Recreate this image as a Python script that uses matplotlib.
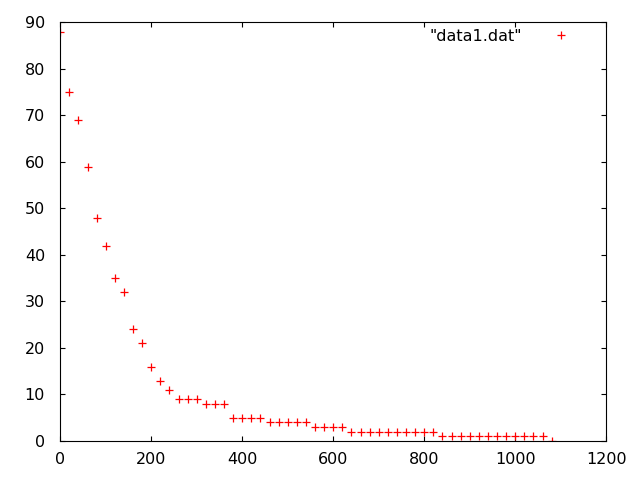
import matplotlib
matplotlib.use('Agg')
import matplotlib.pyplot as plt

# values (gnuplot-style scatter of data1.dat)
x_vals = list(range(0, 1100, 20))
y_vals = [88, 75, 69, 59, 48, 42, 35, 32, 24, 21,
          16, 13, 11, 9, 9, 9, 8, 8, 8, 5,
          5, 5, 5, 4, 4, 4, 4, 4, 3, 3,
          3, 3, 2, 2, 2, 2, 2, 2, 2, 2,
          2, 2, 1, 1, 1, 1, 1, 1, 1, 1,
          1, 1, 1, 1, 0]
x_ticks = [0, 200, 400, 600, 800, 1000, 1200]
y_ticks = [0, 10, 20, 30, 40, 50, 60, 70, 80, 90]

plt.rcParams['font.family'] = ['DejaVu Sans']

fig = plt.figure(figsize=(6.4, 4.8), dpi=100)
ax = fig.add_axes([0.0942, 0.08125, 0.8531, 0.8723])

ax.plot(x_vals, y_vals, linestyle='none', marker='+', color='red',
        markersize=5.2, markeredgewidth=0.9, label='"data1.dat"', clip_on=True)

ax.set_xlim(0, 1200)
ax.set_ylim(0, 90)
ax.set_xticks(x_ticks)
ax.set_yticks(y_ticks)
ax.tick_params(direction='in', length=3.3, width=0.8, top=True, right=True,
               labelsize=11.5, colors='black')
ax.tick_params(axis='x', pad=8)
ax.tick_params(axis='y', pad=11)
for sp in ax.spines.values():
    sp.set_linewidth(0.8)

# key sits top right, text before the marker like gnuplot
ax.legend(loc='upper right', bbox_to_anchor=(0.946, 0.985), frameon=False,
          markerfirst=False, handlelength=2, handletextpad=1.45,
          borderpad=0, borderaxespad=0, fontsize=11.5, numpoints=1)

fig.savefig('out.png', dpi=100)
